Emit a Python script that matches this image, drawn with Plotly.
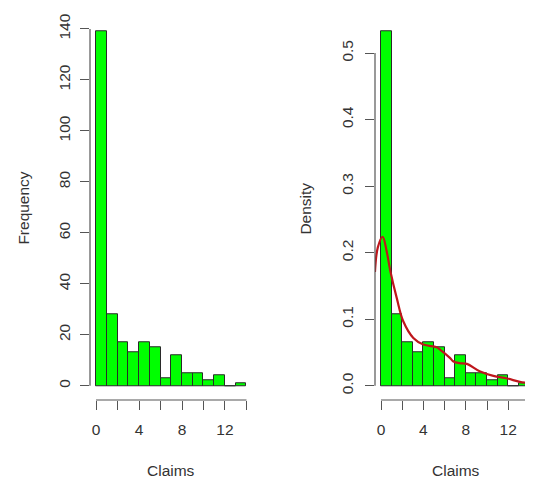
import plotly.graph_objects as go

# ---- data ----
bin_left = [0, 1, 2, 3, 4, 5, 6, 7, 8, 9, 10, 11, 12, 13]
bin_width = 1
counts = [139, 28, 17, 13, 17, 15, 3, 12, 5, 5, 2, 4, 0, 1]

kde_x = [-0.57, -0.3, 0.16, 0.5, 0.9, 1.5, 2.1, 3.05, 4.0, 5.25, 5.6, 6.5, 6.8, 7.4, 8.1, 9.3, 10.6, 11.9, 13.1, 14.2]
kde_y = [0.171, 0.208, 0.224, 0.205, 0.171, 0.131, 0.097, 0.072, 0.062, 0.058, 0.054, 0.042, 0.037, 0.034, 0.033, 0.022, 0.015, 0.011, 0.006, 0.0035]

x_tickvals = [0, 2, 4, 6, 8, 10, 12, 14]
x_ticktext = ["0", "", "4", "", "8", "", "12", ""]
freq_ticks = [0, 20, 40, 60, 80, 100, 120, 140]
dens_ticks = [0.0, 0.1, 0.2, 0.3, 0.4, 0.5]
dens_ticktext = ["0.0", "0.1", "0.2", "0.3", "0.4", "0.5"]

total = sum(counts)
density = [c / (total * bin_width) for c in counts]
centers = [b + bin_width / 2 for b in bin_left]

# page body has an 8px margin: figure covers window pixels 8..533 x 8..480
OFF = 8
W, H = 533 - OFF, 480 - OFF
def px(v):  # window x pixel -> paper fraction
    return (v - OFF) / W
def py(v):  # window y pixel (from top) -> paper fraction
    return 1 - (v - OFF) / H

FONT = "Liberation Sans, Arial, sans-serif"
FS = 15.5
BAR = "#00FF00"
EDGE = "#2a2a2a"
AXC = "#555555"
TXT = "#333333"

fig = go.Figure()
fig.add_trace(go.Bar(x=centers, y=counts, width=bin_width, marker=dict(color=BAR, line=dict(color=EDGE, width=1)),
                     xaxis="x", yaxis="y", showlegend=False))
fig.add_trace(go.Bar(x=centers, y=density, width=bin_width, marker=dict(color=BAR, line=dict(color=EDGE, width=1)),
                     xaxis="x2", yaxis="y2", showlegend=False))
fig.add_trace(go.Scatter(x=kde_x, y=kde_y, mode="lines", line=dict(color="#BE161B", width=2.2, shape="spline", smoothing=1.0),
                         xaxis="x2", yaxis="y2", showlegend=False, cliponaxis=False))

ydom = [py(399.3), py(13.3)]
common_ax = dict(showgrid=False, zeroline=False, showline=False, ticks="outside", ticklen=9, tickwidth=1,
                 tickcolor=AXC, tickfont=dict(family=FONT, size=FS, color=TXT), fixedrange=True)

fig.update_layout(
    width=W, height=H, margin=dict(l=0, r=0, t=0, b=0), autosize=False,
    paper_bgcolor="white", plot_bgcolor="white", bargap=0,
    xaxis=dict(domain=[px(90), px(252.5)], range=[-0.56, 14.56], anchor="y",
               tickvals=x_tickvals, ticktext=x_ticktext, ticklabelstandoff=6, **common_ax),
    yaxis=dict(domain=ydom, range=[-5.56, 144.56], anchor="x",
               tickvals=freq_ticks, tickangle=-90, ticklabelstandoff=4, **common_ax),
    xaxis2=dict(domain=[px(375), 1.0], range=[-0.566, 14.34], anchor="y2",
                tickvals=x_tickvals, ticktext=x_ticktext, ticklabelstandoff=6, **common_ax),
    yaxis2=dict(domain=ydom, range=[-0.0213, 0.5539], anchor="x2",
                tickvals=dens_ticks, ticktext=dens_ticktext, tickangle=-90, ticklabelstandoff=6, **common_ax),
)

# R-style axis lines spanning only the tick range
for xr, yr, xmax, ymax in [("x", "y", 14, 140), ("x2", "y2", 14, 0.5)]:
    fig.add_shape(type="line", xref=xr, yref=yr + " domain", x0=0, x1=xmax, y0=0, y1=0,
                  line=dict(color=AXC, width=1.2))
    fig.add_shape(type="line", xref=xr + " domain", yref=yr, x0=0, x1=0, y0=0, y1=ymax,
                  line=dict(color=AXC, width=1.2))

afont = dict(family=FONT, size=FS, color=TXT)
fig.add_annotation(text="Claims", xref="paper", x=px(171), yref="paper", y=py(470.7),
                   showarrow=False, xanchor="center", yanchor="middle", font=afont)
fig.add_annotation(text="Claims", xref="paper", x=px(456), yref="paper", y=py(470.7),
                   showarrow=False, xanchor="center", yanchor="middle", font=afont)
fig.add_annotation(text="Frequency", xref="paper", x=px(24), yref="y domain", y=0.5, textangle=-90,
                   showarrow=False, xanchor="center", yanchor="middle", font=afont)
fig.add_annotation(text="Density", xref="paper", x=px(306), yref="y2 domain", y=0.5, textangle=-90,
                   showarrow=False, xanchor="center", yanchor="middle", font=afont)

fig.write_html("out.html")
